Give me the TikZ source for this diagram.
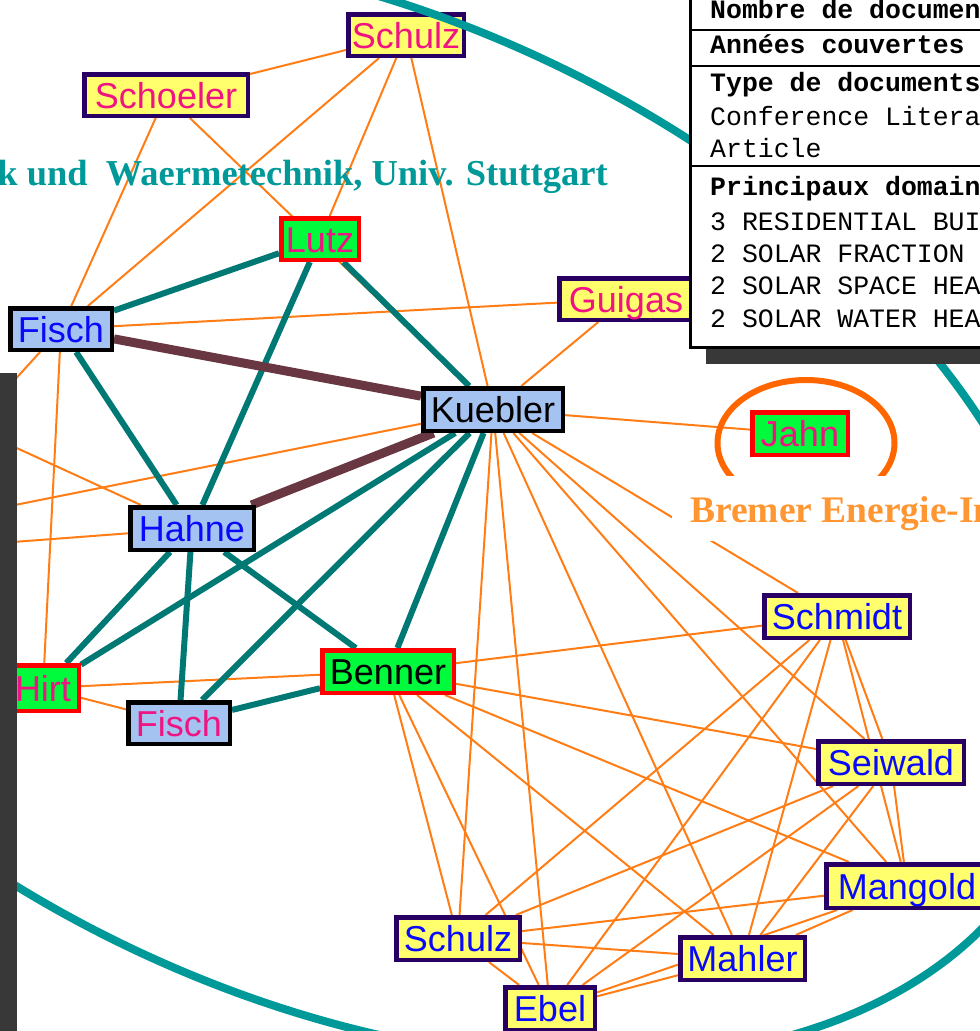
\documentclass[tikz,border=0pt]{standalone}
\usepackage{fontspec}
\setmainfont{Liberation Serif}
\newfontfamily\sansf{Liberation Sans}
\newfontfamily\monof{Liberation Mono}
\definecolor{yelF}{RGB}{255,255,110}
\definecolor{indigoB}{RGB}{40,0,100}
\definecolor{blueF}{RGB}{165,195,240}
\definecolor{greenF}{RGB}{0,250,60}
\definecolor{redB}{RGB}{255,0,0}
\definecolor{pinkT}{RGB}{240,20,130}
\definecolor{blueT}{RGB}{10,10,250}
\definecolor{orangeE}{RGB}{255,125,20}
\definecolor{tealE}{RGB}{0,120,115}
\definecolor{brownE}{RGB}{105,55,65}
\definecolor{tealC}{RGB}{0,153,153}
\definecolor{orangeT}{RGB}{255,150,50}
\definecolor{jahnE}{RGB}{255,102,0}
\definecolor{barC}{RGB}{56,56,56}
\pgfdeclarelayer{bg}
\pgfsetlayers{bg,main}
\begin{document}
\begin{tikzpicture}[x=1pt,y=-1pt,
  nb/.style={draw, line width=4.5pt, inner sep=0pt, text height=26pt, text depth=0pt, font=\sansf\fontsize{36}{40}\selectfont},
  ybox/.style={nb, fill=yelF, draw=indigoB},
  bbox/.style={nb, fill=blueF, draw=black},
  gbox/.style={nb, fill=greenF, draw=redB},
  oe/.style={draw=orangeE, line width=2pt},
  te/.style={draw=tealE, line width=6pt},
  be/.style={draw=brownE, line width=9pt},
  tab/.style={anchor=base west, inner sep=0pt, font=\monof\fontsize{26.5}{30}\selectfont},
  tabb/.style={anchor=base west, inner sep=0pt, font=\monof\bfseries\fontsize{26.5}{30}\selectfont},
]
\useasboundingbox (0,0) rectangle (980,1031);
\clip (0,0) rectangle (980,1031);

% ---------- nodes ----------
\node[ybox, text=pinkT, minimum width=115.5pt, minimum height=41.5pt] (schulzT) at (406,35) {Schulz};
\node[ybox, text=pinkT, minimum width=163.5pt, minimum height=41.5pt] (schoeler) at (166,95) {Schoeler};
\node[gbox, text=pinkT, minimum width=77.5pt, minimum height=41.5pt] (lutz) at (320,239) {Lutz};
\node[ybox, text=pinkT, minimum width=133.5pt, minimum height=41.5pt] (guigas) at (626,299) {Guigas};
\node[bbox, text=blueT, minimum width=101.5pt, minimum height=41.5pt] (fischT) at (61,329) {Fisch};
\node[bbox, text=black, minimum width=139.5pt, minimum height=42.5pt] (kuebler) at (493,409.5) {Kuebler};
\node[gbox, text=pinkT, minimum width=95.5pt, minimum height=42.5pt] (jahn) at (800,433.5) {Jahn};
\node[bbox, text=blueT, minimum width=123.5pt, minimum height=42.5pt] (hahne) at (192,528.5) {Hahne};
\node[gbox, text=black, minimum width=131.5pt, minimum height=42.5pt] (benner) at (388,671.5) {Benner};
\node[gbox, text=pinkT, minimum width=71.5pt, minimum height=45.5pt] (hirt) at (43,688) {Hirt};
\node[bbox, text=pinkT, minimum width=101.5pt, minimum height=41.5pt] (fischB) at (179,723) {Fisch};
\node[ybox, text=blueT, minimum width=145.5pt, minimum height=42.5pt] (schmidt) at (837,616.5) {Schmidt};
\node[ybox, text=blueT, minimum width=145.5pt, minimum height=42.5pt] (seiwald) at (891,762.5) {Seiwald};
\node[ybox, text=blueT, minimum width=161.5pt, minimum height=43.5pt] (mangold) at (907,886) {Mangold};
\node[ybox, text=blueT, minimum width=123.5pt, minimum height=42.5pt] (schulzB) at (458,938.5) {Schulz};
\node[ybox, text=blueT, minimum width=124.5pt, minimum height=42.5pt] (mahler) at (742.5,958.5) {Mahler};
\node[ybox, text=blueT, minimum width=89.5pt, minimum height=42.5pt] (ebel) at (550,1008.5) {Ebel};

\coordinate (offA) at (-40,440);
\coordinate (offB) at (-40,422);
\coordinate (offC) at (-40,516);
\coordinate (offD) at (-40,546);

% ---------- connectors ----------
\begin{pgfonlayer}{bg}
\foreach \a/\b in {schulzT/schoeler, schulzT/fischT, schulzT/lutz, schulzT/kuebler,
  schoeler/fischT, schoeler/kuebler, fischT/guigas, fischT/hirt, fischT/offA,
  hahne/offB, kuebler/offC, hahne/offD, kuebler/guigas, kuebler/jahn,
  hirt/benner, hirt/fischB,
  kuebler/schmidt, kuebler/seiwald, kuebler/mangold, kuebler/mahler, kuebler/schulzB, kuebler/ebel,
  benner/schmidt, benner/seiwald, benner/mangold, benner/mahler, benner/schulzB, benner/ebel,
  schmidt/seiwald, schmidt/mangold, schmidt/mahler, schmidt/schulzB, schmidt/ebel,
  seiwald/mangold, seiwald/mahler, seiwald/schulzB, seiwald/ebel,
  mangold/mahler, mangold/schulzB, mangold/ebel,
  mahler/schulzB, mahler/ebel, schulzB/ebel}
  \draw[oe] (\a) -- (\b);
\foreach \a/\b in {lutz/fischT, lutz/hahne, lutz/kuebler, fischT/hahne, hahne/hirt,
  hahne/fischB, hahne/benner, kuebler/hirt, kuebler/fischB, kuebler/benner, fischB/benner}
  \draw[te] (\a) -- (\b);
\draw[be] (fischT) -- (kuebler);
\draw[be] (hahne) -- (kuebler);
\draw[jahnE, line width=6pt] (806,443) ellipse [x radius=88.5pt, y radius=63pt];
\end{pgfonlayer}

% ---------- group labels ----------
\node[anchor=base west, fill=white, inner xsep=18pt, inner ysep=0pt, text height=46pt, text depth=19pt,
  text=orangeT, font=\bfseries\fontsize{37.5}{40}\selectfont] (bremer) at (672,522) {Bremer Energie-In};
\node[anchor=base east, inner sep=0pt, text=tealC, font=\bfseries\fontsize{36.5}{40}\selectfont]
  (stuttgart) at (608,185) {k und~~Waermetechnik, Univ. Stuttgart};

\draw[tealC, line width=8pt, rotate around={-25.5:(341,505.5)}] (341,505.5) ellipse [x radius=779pt, y radius=490pt];

% ---------- info table ----------
\fill[barC] (706,0) rectangle (995,364);
\draw[line width=3pt, fill=white] (690,-10) rectangle (1000,347);
\draw[line width=2.7pt] (690,30) -- (1000,30);
\draw[line width=2.7pt] (690,66) -- (1000,66);
\draw[line width=2.7pt] (690,166) -- (1000,166);
\node[tabb] (t1) at (710,18) {Nombre de documen};
\node[tabb] (t2) at (710,53) {Années couvertes};
\node[tabb] (t3) at (710,91) {Type de documents};
\node[tab] (t4) at (710,125) {Conference Litera};
\node[tab] (t5) at (710,157) {Article};
\node[tabb] (t6) at (710,195) {Principaux domain};
\node[tab] (t7) at (710,230) {3 RESIDENTIAL BUI};
\node[tab] (t8) at (710,262) {2 SOLAR FRACTION};
\node[tab] (t9) at (710,294) {2 SOLAR SPACE HEA};
\node[tab] (t10) at (710,327) {2 SOLAR WATER HEA};

% ---------- left dark bar ----------
\fill[barC] (0,373) rectangle (16.5,1031);
\end{tikzpicture}
\end{document}
